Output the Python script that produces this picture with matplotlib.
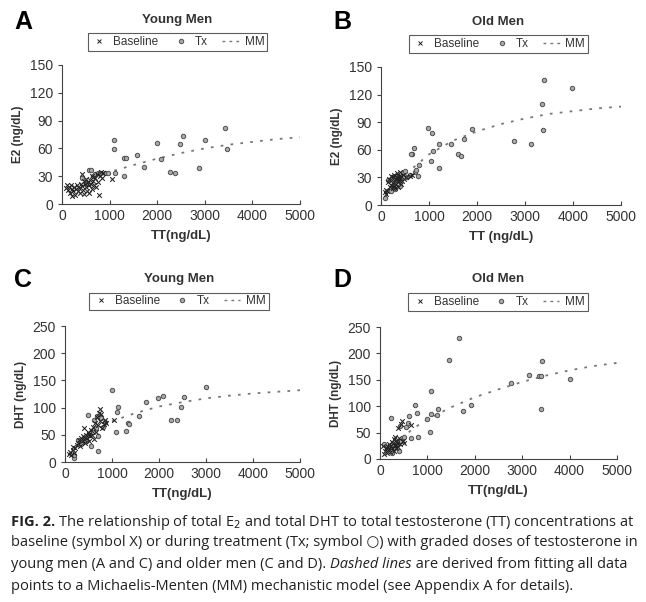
import matplotlib
matplotlib.use('Agg')
import matplotlib.pyplot as plt
from matplotlib.lines import Line2D

plt.rcParams['font.family'] = ['Liberation Sans', 'DejaVu Sans']

# ---- data ----
# Panel A: young men, E2 vs TT
a_base_tt = [80, 100, 120, 150, 170, 190, 200, 220, 240, 260, 280, 300, 320, 340, 360, 380, 400, 410,
             420, 440, 460, 470, 480, 500, 510, 520, 540, 560, 570, 590, 600, 620, 640, 660, 680, 700,
             720, 740, 760, 780, 800, 820, 840, 860, 1040]
a_base_e2 = [17, 20, 15, 18, 12, 20, 9, 16, 14, 18, 10, 16, 21, 14, 17, 12, 22, 32,
             19, 15, 25, 11, 22, 18, 27, 14, 24, 20, 12, 26, 22, 16, 30, 25, 21, 28,
             18, 32, 24, 10, 30, 35, 28, 33, 27]
a_tx_tt = [430, 500, 560, 600, 650, 700, 760, 800, 900, 960, 1099, 1099, 1120, 1309, 1351, 1295, 1582,
           1722, 1995, 2086, 2268, 2380, 2485, 2548, 2870, 3010, 3416, 3472]
a_tx_e2 = [28, 23, 37, 37, 30, 32, 33, 33, 33, 33, 69, 59, 33, 50, 50, 30, 53,
           40, 66, 49, 34, 33, 65, 73, 39, 69, 82, 59]
a_mm_tt = [1100, 1500, 2000, 2500, 3000, 3500, 4000, 4500, 5000]
a_mm_e2 = [36, 42, 49, 55, 60, 64, 67, 70, 72]

# Panel B: old men, E2 vs TT
b_base_tt = [80, 100, 110, 130, 150, 170, 180, 200, 210, 230, 240, 250, 260, 270, 280, 290, 300, 310,
             320, 330, 340, 350, 360, 370, 380, 390, 400, 410, 420, 440, 460, 480, 520, 600, 650]
b_base_e2 = [14, 16, 12, 15, 25, 28, 20, 32, 22, 27, 18, 30, 24, 21, 33, 26, 19, 28,
             23, 35, 30, 25, 20, 32, 27, 36, 29, 23, 31, 26, 33, 28, 30, 32, 33]
b_tx_tt = [90, 150, 200, 250, 300, 350, 400, 450, 500, 550, 600, 700, 400, 300,
           988, 1065, 640, 682, 626, 800, 765, 730, 1079, 1044, 1204, 1204, 1455, 1608, 1657,
           1733, 1893, 2763, 3118, 3355, 3389, 3382, 3981]
b_tx_e2 = [8, 27, 15, 22, 17, 30, 21, 35, 37, 30, 33, 36, 27, 32,
           84, 78, 55, 62, 55, 43, 31, 38, 59, 48, 66, 40, 66, 55, 53,
           72, 83, 70, 66, 110, 136, 81, 127]
b_mm_tt = [100, 250, 500, 1000, 1500, 2000, 2500, 3000, 3500, 4000, 4500, 5000]
b_mm_e2 = [10, 22, 33, 55, 70, 80, 88, 94, 99, 102, 105, 107]

# Panel C: young men, DHT vs TT
c_base_tt = [80, 100, 130, 160, 180, 200, 220, 250, 280, 300, 320, 340, 360, 380, 400, 410, 420, 440,
             460, 480, 500, 520, 540, 560, 580, 600, 620, 640, 660, 680, 700, 720, 740, 750, 770,
             790, 820, 850, 880, 1050]
c_base_dht = [14, 18, 12, 22, 28, 16, 25, 32, 35, 40, 30, 45, 38, 48, 42, 62, 35, 50,
              44, 55, 38, 52, 47, 58, 50, 65, 43, 72, 55, 82, 68, 90, 97, 75, 88,
              62, 70, 78, 72, 77]
c_tx_tt = [200, 200, 280, 350, 400, 450, 500, 550, 600, 620, 650, 680, 700, 760, 800, 850,
           1000, 1120, 1099, 1092, 1298, 1333, 1354, 1567, 1716, 1978, 2092, 2248, 2382, 2475,
           2538, 2992, 695, 489]
c_tx_dht = [8, 12, 40, 33, 45, 38, 50, 30, 55, 78, 62, 85, 48, 80, 65, 73,
            132, 101, 91, 55, 57, 72, 70, 85, 111, 118, 121, 77, 77, 101,
            120, 137, 20, 87]
c_mm_tt = [1000, 1500, 2000, 2500, 3000, 3500, 4000, 4500, 5000]
c_mm_dht = [75, 90, 102, 110, 117, 122, 126, 129, 132]

# Panel D: old men, DHT vs TT
d_base_tt = [60, 80, 100, 120, 140, 160, 180, 200, 220, 240, 250, 260, 280, 290, 300, 310, 320, 330,
             340, 350, 360, 370, 380, 400, 420, 435, 460, 480, 500, 660]
d_base_dht = [25, 10, 15, 20, 12, 22, 18, 28, 14, 25, 33, 20, 30, 16, 38, 24, 42, 27,
              20, 35, 30, 58, 22, 40, 28, 67, 72, 35, 30, 65]
d_tx_tt = [80, 150, 200, 250, 300, 350, 400, 450, 500, 550, 600, 420,
           1657, 1460, 1067, 730, 772, 618, 1067, 1193, 1221, 990, 1053, 1741, 1910, 2766,
           3138, 3363, 3398, 3412, 3398, 4001, 239, 800, 646]
d_tx_dht = [28, 18, 25, 12, 20, 28, 15, 35, 42, 60, 68, 62,
            229, 187, 129, 103, 87, 82, 85, 84, 94, 75, 52, 90, 103, 144,
            159, 158, 158, 186, 95, 151, 77, 41, 40]
d_mm_tt = [300, 500, 700, 1000, 1500, 2000, 2500, 3000, 3500, 4000, 4500, 5000]
d_mm_dht = [25, 42, 58, 75, 98, 117, 132, 146, 158, 168, 176, 182]

panels = [
    ('A', 'Young Men', 'E2 (ng/dL)', 'TT(ng/dL)', 150, [0, 30, 60, 90, 120, 150],
     a_base_tt, a_base_e2, a_tx_tt, a_tx_e2, a_mm_tt, a_mm_e2),
    ('B', 'Old Men', 'E2 (ng/dL)', 'TT (ng/dL)', 150, [0, 30, 60, 90, 120, 150],
     b_base_tt, b_base_e2, b_tx_tt, b_tx_e2, b_mm_tt, b_mm_e2),
    ('C', 'Young Men', 'DHT (ng/dL)', 'TT(ng/dL)', 250, [0, 50, 100, 150, 200, 250],
     c_base_tt, c_base_dht, c_tx_tt, c_tx_dht, c_mm_tt, c_mm_dht),
    ('D', 'Old Men', 'DHT (ng/dL)', 'TT(ng/dL)', 250, [0, 50, 100, 150, 200, 250],
     d_base_tt, d_base_dht, d_tx_tt, d_tx_dht, d_mm_tt, d_mm_dht),
]

W, H = 646, 602
# axes boxes in pixels: left, right, top, bottom (from top of figure)
boxes = [(62, 300, 65, 204), (381, 621, 67, 205), (65, 300, 326, 462), (380, 617, 327, 459)]
legend_boxes = [(91, 264, 34, 50), (402, 595, 36, 52), (88, 270, 293, 310), (405, 591, 293, 311)]
letter_pos = [(14, 22), (333, 22), (14, 280), (333, 280)]

fig = plt.figure(figsize=(W / 100, H / 100), dpi=100)

for i, (letter, title, ylab, xlab, ymax, yticks, bx, by, tx, ty, mx, my) in enumerate(panels):
    l, r, t, b = boxes[i]
    ax = fig.add_axes([l / W, 1 - b / H, (r - l) / W, (b - t) / H])
    ax.plot(mx, my, linestyle=(0, (1.5, 4)), color='#777777', linewidth=1.3, zorder=1)
    ax.scatter(tx, ty, marker='o', s=10, facecolor='#aaaaaa', edgecolor='#505050',
               linewidths=0.7, zorder=2)
    ax.scatter(bx, by, marker='x', s=11, color='#222222', linewidths=0.75, zorder=3)
    ax.set_xlim(0, 5000)
    ax.set_ylim(0, ymax)
    ax.set_xticks([0, 1000, 2000, 3000, 4000, 5000])
    ax.set_yticks(yticks)
    ax.spines['top'].set_visible(False)
    ax.spines['right'].set_visible(False)
    ax.spines['left'].set_color('#444444')
    ax.spines['bottom'].set_color('#444444')
    ax.tick_params(axis='both', labelsize=10, length=3, color='#444444', labelcolor='#333333')
    ax.tick_params(axis='x', direction='in')
    ax.set_xlabel(xlab, fontsize=9.5, fontweight='bold', color='#333333', labelpad=5)
    ax.set_ylabel(ylab, fontsize=8.5, fontweight='bold', color='#333333', labelpad=4)

    # panel letter and title
    lx, ly = letter_pos[i]
    fig.text(lx / W, 1 - ly / H, letter, fontsize=18, fontweight='bold', ha='left', va='center')
    ll, lr, lt, lb = legend_boxes[i]
    fig.text((ll + lr) / 2 / W, 1 - (lt - 14) / H, title, fontsize=9.5, fontweight='bold',
             ha='center', va='center', color='#333333')

    handles = [
        Line2D([0], [0], marker='x', linestyle='none', color='#222222', markersize=3.5,
               markeredgewidth=0.7, label='Baseline'),
        Line2D([0], [0], marker='o', linestyle='none', markerfacecolor='#aaaaaa',
               markeredgecolor='#505050', markersize=3.2, markeredgewidth=0.7, label='Tx'),
        Line2D([0], [0], linestyle=(0, (2, 3)), color='#777777', linewidth=1.0, label='MM'),
    ]
    leg = fig.legend(handles=handles, ncol=3, loc='center',
                     bbox_to_anchor=((ll + lr) / 2 / W, 1 - (lt + lb) / 2 / H),
                     fontsize=8.5, frameon=True, fancybox=False, edgecolor='#333333',
                     handlelength=1.4, handletextpad=0.5, columnspacing=1.2,
                     borderpad=0.25, borderaxespad=0)
    leg.get_frame().set_linewidth(0.8)
    for txt in leg.get_texts():
        txt.set_color('#333333')

# ---- caption ----
cap_font = ['Open Sans', 'DejaVu Sans']
cap_size = 10.5
renderer = fig.canvas.get_renderer()


def draw_pieces(x_px, y_px, pieces):
    x = x_px
    for s, weight, style in pieces:
        t = fig.text(x / W, 1 - y_px / H, s, fontsize=cap_size, family=cap_font,
                     fontweight=weight, fontstyle=style, ha='left', va='center', color='#222222')
        bb = t.get_window_extent(renderer=renderer)
        x += bb.width


draw_pieces(11, 522, [('FIG. 2.', 'bold', 'normal'),
                      (' The relationship of total E$_2$ and total DHT to total testosterone (TT) concentrations at',
                       'normal', 'normal')])
draw_pieces(11, 543, [('baseline (symbol X) or during treatment (Tx; symbol \u25cb) with graded doses of testosterone in',
                       'normal', 'normal')])
draw_pieces(11, 565, [('young men (A and C) and older men (C and D). ', 'normal', 'normal'),
                      ('Dashed lines', 'normal', 'italic'),
                      (' are derived from fitting all data', 'normal', 'normal')])
draw_pieces(11, 586, [('points to a Michaelis-Menten (MM) mechanistic model (see Appendix A for details).',
                       'normal', 'normal')])

fig.savefig('out.png', dpi=100, facecolor='white')
